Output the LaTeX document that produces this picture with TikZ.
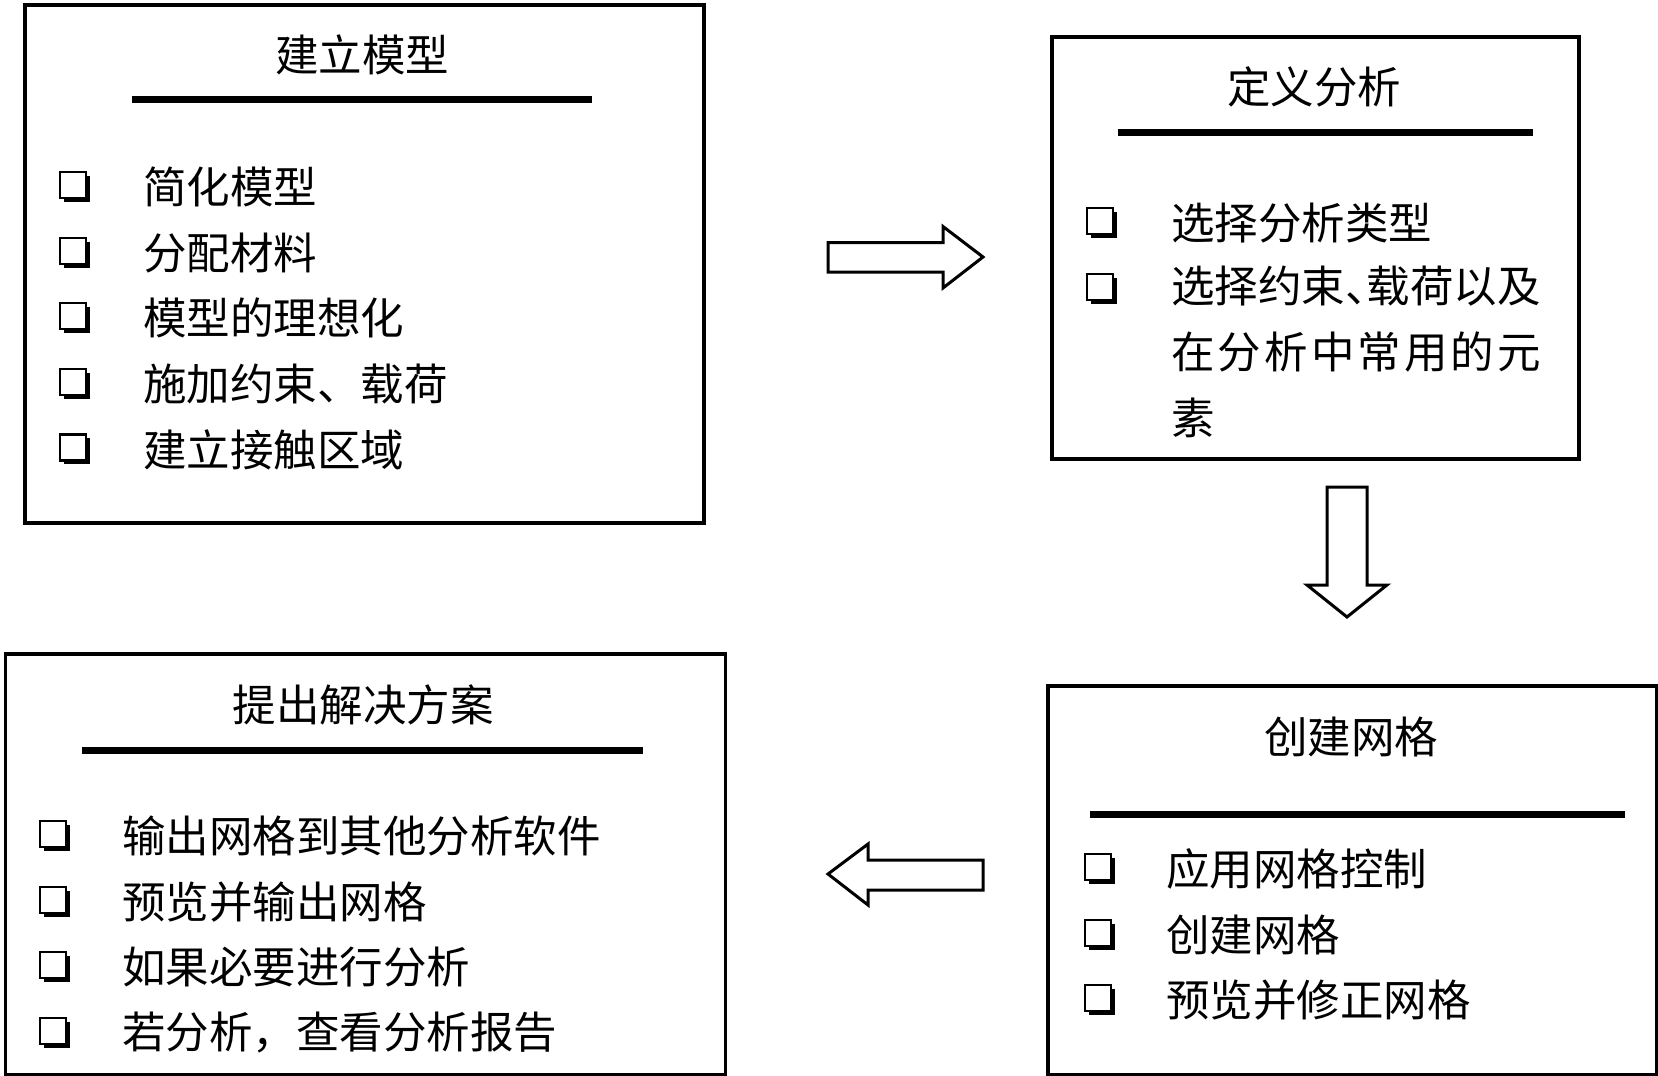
\documentclass[tikz,border=0pt]{standalone}
\usepackage{fontspec}
\setmainfont{Noto Sans CJK SC}
\usepackage{tikz}
\usetikzlibrary{positioning, shadows}
\tikzset{
  stagebox/.style={draw, line width=3.5pt, anchor=north west, inner sep=0pt},
  stagetitle/.style={font=\fontsize{43.5}{66}\selectfont, inner sep=0pt},
  titlerule/.style={line width=7pt},
  chkbox/.style={draw, line width=2.2pt, fill=white, minimum size=26pt,
                 inner sep=0pt,
                 drop shadow={shadow xshift=4pt, shadow yshift=-4pt,
                              fill=black, opacity=1}},
  itemtext/.style={font=\fontsize{43.5}{66}\selectfont, anchor=west,
                   inner sep=0pt, align=left},
  blockarrow/.style={draw, line width=3pt, line join=miter, fill=white},
}

\begin{document}
\begin{tikzpicture}[x=1pt, y=-1pt]
  \useasboundingbox (0,0) rectangle (1658,1076);

  % Boxes
  \node[stagebox, minimum width=679, minimum height=518] (model) at (23,3) {};
  \node[stagebox, minimum width=527, minimum height=422] (define) at (1050,35) {};
  \node[stagebox, minimum width=609, minimum height=389] (mesh) at (1046,684) {};
  \node[stagebox, minimum width=720, minimum height=421] (solve) at (3.5,652) {};

  % Titles
  \node[stagetitle] (modeltitle) at (362,55) {建立模型};
  \node[stagetitle] (definetitle) at (1314,87) {定义分析};
  \node[stagetitle] (meshtitle) at (1351,737) {创建网格};
  \node[stagetitle] (solvetitle) at (363,705) {提出解决方案};

  \draw[titlerule] (132,99) -- (592,99);
  \draw[titlerule] (1118,132) -- (1533,132);
  \draw[titlerule] (1090,814) -- (1625,814);
  \draw[titlerule] (82,750) -- (643,750);

  % Items: build model
  \foreach \txt [count=\i] in {简化模型, 分配材料, 模型的理想化,
                              施加约束、载荷, 建立接触区域} {
    \node[chkbox] (modelchk\i) at (73,{185+65.6*(\i-1)}) {};
    \node[itemtext] (modelitem\i) at (143,{187+65.6*(\i-1)}) {\txt};
  }

  % Items: define analysis
  \node[chkbox] (definechk1) at (1100,221) {};
  \node[itemtext] (defineitem1) at (1171,223) {选择分析类型};
  \node[chkbox] (definechk2) at (1100,287) {};
  \node[itemtext, anchor=north west] (defineitem2) at (1171,266)
    {选择约束\makebox[0.5em][l]{、}载荷以及\\
     \makebox[8.5em][s]{在\hfill{}分\hfill{}析\hfill{}中\hfill{}常\hfill{}用\hfill{}的\hfill{}元}\\
     素};

  % Items: create mesh
  \foreach \txt [count=\i] in {应用网格控制, 创建网格, 预览并修正网格} {
    \node[chkbox] (meshchk\i) at (1098,{867+65.6*(\i-1)}) {};
    \node[itemtext] (meshitem\i) at (1166,{869+65.6*(\i-1)}) {\txt};
  }

  % Items: solution
  \foreach \txt [count=\i] in {输出网格到其他分析软件, 预览并输出网格,
                              如果必要进行分析, 若分析，查看分析报告} {
    \node[chkbox] (solvechk\i) at (53,{834+65.6*(\i-1)}) {};
    \node[itemtext] (solveitem\i) at (122,{836+65.6*(\i-1)}) {\txt};
  }

  % Block arrows
  \coordinate (toright) at (828,257);
  \coordinate (todown) at (1347,487);
  \coordinate (toleft) at (983,874);

  \draw[blockarrow] (toright) ++(0,-14.5) -- ++(115,0) -- ++(0,-16) -- (983,257)
    -- (943,288) -- ++(0,-16) -- ++(-115,0) -- cycle;
  \draw[blockarrow] (todown) ++(-20,0) -- ++(40,0) -- ++(0,98) -- ++(20,0)
    -- (1347,617) -- (1307,585) -- ++(20,0) -- cycle;
  \draw[blockarrow] (toleft) ++(0,-14) -- ++(-115,0) -- ++(0,-16) -- (828,874)
    -- (868,905) -- ++(0,-15) -- ++(115,0) -- cycle;
\end{tikzpicture}
\end{document}
